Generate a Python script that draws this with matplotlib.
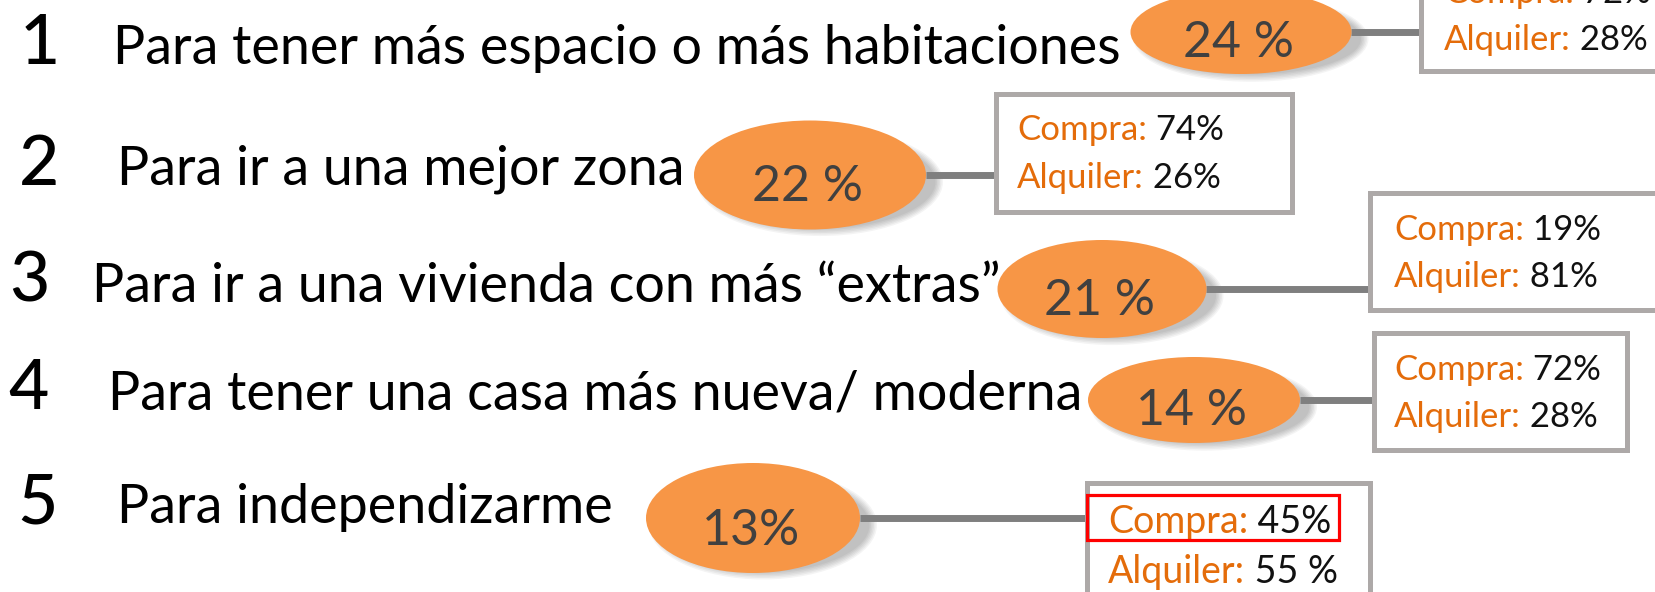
import matplotlib.pyplot as plt
from matplotlib.patches import Ellipse, Rectangle

# Data
ranks = [1, 2, 3, 4, 5]
reasons = [
    "Para tener más espacio o más habitaciones",
    "Para ir a una mejor zona",
    "Para ir a una vivienda con más “extras”",
    "Para tener una casa más nueva/ moderna",
    "Para independizarme",
]
totals = [24, 22, 21, 14, 13]
total_sep = [" ", " ", " ", " ", ""]
compra = [72, 74, 19, 72, 45]
alquiler = [28, 26, 81, 28, 55]
alquiler_sep = ["", "", "", "", " "]

# Layout in pixels (y grows downwards)
num_x = [40, 39, 29, 29, 38]
label_x = [113, 117, 92, 108, 117]
label_y = [64, 185, 302, 409, 523]
ellipses = [(1241, 32, 221, 84), (810, 175, 232, 109), (1102, 289, 209, 98),
            (1194, 400, 212, 86), (753, 518, 214, 110)]
pct_y = [57, 201, 315, 425, 545]
boxes = [(1421, -40, 1700, 71), (996, 94, 1292, 212), (1370, 193, 1700, 310),
         (1374, 333, 1627, 450), (1087, 483, 1370, 650)]
box_text_x = [1444, 1017, 1394, 1394, 1108]
box_text_y = [(3, 50), (140, 188), (240, 287), (380, 427), (533, 583)]
box_fs = [25, 25, 25, 25, 27]

ORANGE = "#F79646"
DARK_ORANGE = "#E46C0A"
FONT = "Lato"

fig = plt.figure(figsize=(16.56, 5.92), dpi=100)
ax = fig.add_axes([0, 0, 1, 1])
ax.set_xlim(0, 1656)
ax.set_ylim(592, 0)
ax.axis("off")
renderer = fig.canvas.get_renderer()


def two_tone(x, y, head, tail, size):
    t = ax.text(x, y, head, color=DARK_ORANGE, fontsize=size, family=FONT,
                va="baseline", ha="left", zorder=6)
    bb = t.get_window_extent(renderer)
    x2 = ax.transData.inverted().transform((bb.x1, 0))[0]
    ax.text(x2, y, tail, color="#111111", fontsize=size, family=FONT,
            va="baseline", ha="left", zorder=6)


for i in range(len(ranks)):
    cx, cy, w, h = ellipses[i]

    ax.text(num_x[i], label_y[i], str(ranks[i]), fontsize=50, family=FONT,
            weight="medium", ha="center", va="baseline", color="black")
    ax.text(label_x[i], label_y[i], reasons[i], fontsize=38.8, family=FONT,
            ha="left", va="baseline", color="black")

    # soft shadow under the bubble
    for k in range(6):
        ax.add_patch(Ellipse((cx + 10, cy + 7), w + 14 - 3 * k, h * 0.9 + 10 - 3 * k,
                             facecolor="black", alpha=0.045, lw=0, zorder=1))
    ax.add_patch(Ellipse((cx, cy), w, h, facecolor=ORANGE, lw=0, zorder=3))
    ax.text(cx - 2, pct_y[i], f"{totals[i]}{total_sep[i]}%", fontsize=36,
            family=FONT, ha="center", va="baseline", color="#404040", zorder=4)

    x0, y0, x1, y1 = boxes[i]
    ax.plot([cx + w / 2, x0], [cy, cy], color="#7F7F7F", lw=5,
            solid_capstyle="butt", zorder=2)
    ax.add_patch(Rectangle((x0, y0), x1 - x0, y1 - y0, facecolor="white",
                           edgecolor="#ADA9A8", lw=3.6, zorder=5))

    ya, yb = box_text_y[i]
    two_tone(box_text_x[i], ya, "Compra:", f" {compra[i]}%", box_fs[i])
    two_tone(box_text_x[i], yb, "Alquiler:", f" {alquiler[i]}{alquiler_sep[i]}%", box_fs[i])

# highlight on the last "Compra" line
ax.add_patch(Rectangle((1087, 495), 252, 45, facecolor="none", edgecolor="#FF0000",
                       lw=2.3, zorder=7))

fig.savefig("out.png", dpi=100)
